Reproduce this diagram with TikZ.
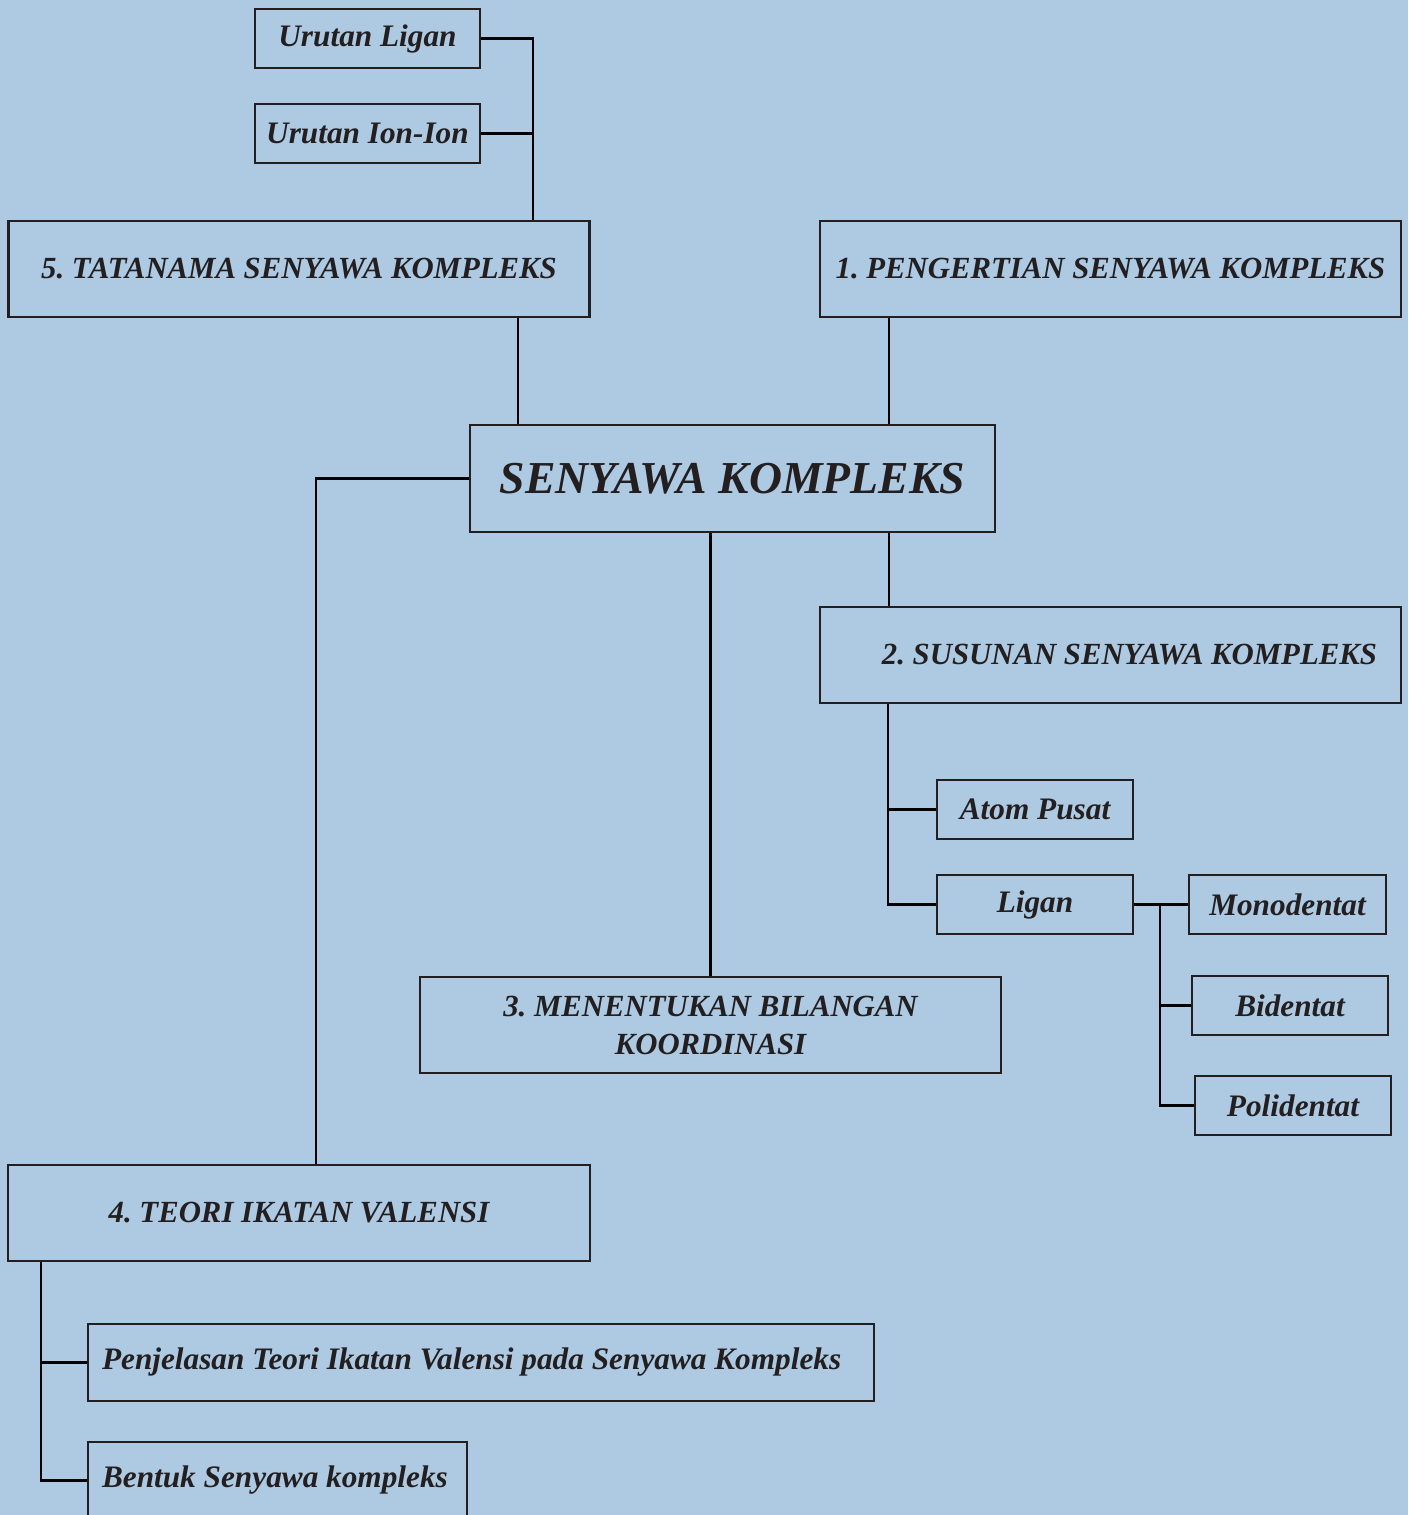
\documentclass[tikz,border=0pt]{standalone}
\usepackage{fontspec}
\setmainfont{Liberation Serif}
\usepackage{tikz}
\usetikzlibrary{positioning,calc}
\definecolor{bgblue}{RGB}{174,201,226}
\definecolor{boxline}{RGB}{35,31,32}
\colorlet{linkline}{black}
\frenchspacing

\begin{document}
\begin{tikzpicture}[
        every node/.style={font=\fontsize{8.75}{10.8}\selectfont\bfseries\itshape, text=boxline},
        bigbox/.style={draw=boxline, line width=0.7pt, minimum width=5.81cm, minimum height=0.96cm, align=center, inner sep=0pt},
        smallbox/.style={draw=boxline, line width=0.7pt, minimum width=1.96cm, minimum height=0.59cm, inner sep=0pt, font=\fontsize{8.9}{10.8}\selectfont\bfseries\itshape},
        link/.style={draw=linkline, line width=0.7pt}]
        \fill[bgblue] (0,0) rectangle (14.08,-15.15);
        \useasboundingbox (0,0) rectangle (14.08,-15.15);

        % Main topic (centre)
        \node[draw=boxline, line width=0.7pt, minimum width=5.25cm, minimum height=1.07cm, inner sep=0pt,
            font=\fontsize{13}{14}\selectfont\bfseries\itshape] (sk) at (7.325,-4.785) {SENYAWA KOMPLEKS};

        % Tatanama (top left)
        \node[bigbox] (tatanama) at (2.99,-2.69) {5. TATANAMA SENYAWA KOMPLEKS};
        \node[smallbox, minimum width=2.25cm] (urutligan) at (3.675,-0.385) {Urutan Ligan};
        \node[smallbox, minimum width=2.25cm] (urution) at (3.675,-1.335) {Urutan Ion-Ion};

        % Pengertian & susunan (right)
        \node[bigbox] (pengertian) at (11.105,-2.69) {1. PENGERTIAN SENYAWA KOMPLEKS};
        \node[bigbox, text width=5.33cm, align=flush right] (susunan) at (11.105,-6.55) {2. SUSUNAN SENYAWA KOMPLEKS};
        \node[smallbox] (atom) at (10.35,-8.095) {Atom Pusat};
        \node[smallbox] (ligan) at (10.35,-9.045) {Ligan};
        \node[smallbox, minimum width=1.97cm] (mono) at (12.875,-9.045) {Monodentat};
        \node[smallbox] (bi) at (12.90,-10.055) {Bidentat};
        \node[smallbox] (poli) at (12.93,-11.055) {Polidentat};

        % Bilangan koordinasi (centre)
        \node[bigbox] (menentukan) at (7.105,-10.25) {3. MENENTUKAN BILANGAN\\KOORDINASI};

        % Teori ikatan valensi (bottom left)
        \node[bigbox, minimum width=5.82cm] (teori) at (2.99,-12.13) {4. TEORI IKATAN VALENSI};
        \node[smallbox, minimum width=7.86cm, minimum height=0.77cm, text width=7.58cm, align=flush left] (penjelasan) at (4.81,-13.625)
            {Penjelasan Teori Ikatan Valensi pada Senyawa Kompleks};
        \node[smallbox, minimum width=3.79cm, minimum height=0.77cm, text width=3.51cm, align=flush left] (bentuk) at (2.775,-14.805)
            {Bentuk Senyawa kompleks};

        % x positions of the vertical links
        \coordinate (xurut) at (5.33,0);
        \coordinate (xtata) at (5.18,0);
        \coordinate (xsus) at (8.89,0);
        \coordinate (xteori) at (3.16,0);
        \coordinate (xsub) at (8.88,0);
        \coordinate (xlig) at (11.60,0);
        \coordinate (xval) at (0.41,0);

        \draw[link] (urutligan.east) -| (tatanama.north -| xurut);
        \draw[link] (urution.east) -- (urution.east -| xurut);
        \draw[link] (tatanama.south -| xtata) -- (sk.north -| xtata);
        \draw[link] (pengertian.south -| xsus) -- (sk.north -| xsus);
        \draw[link] (sk.south -| xsus) -- (susunan.north -| xsus);
        \draw[link] (sk.west) -| (teori.north -| xteori);
        \draw[link] (menentukan.north |- sk.south) -- (menentukan.north);
        \draw[link] (susunan.south -| xsub) |- (ligan.west);
        \draw[link] (atom.west) -- (atom.west -| xsub);
        \draw[link] (ligan.east) -- (mono.west);
        \draw[link] (mono.west -| xlig) |- (poli.west);
        \draw[link] (bi.west) -- (bi.west -| xlig);
        \draw[link] (teori.south -| xval) |- (bentuk.west);
        \draw[link] (penjelasan.west) -- (penjelasan.west -| xval);
    \end{tikzpicture}
\end{document}
